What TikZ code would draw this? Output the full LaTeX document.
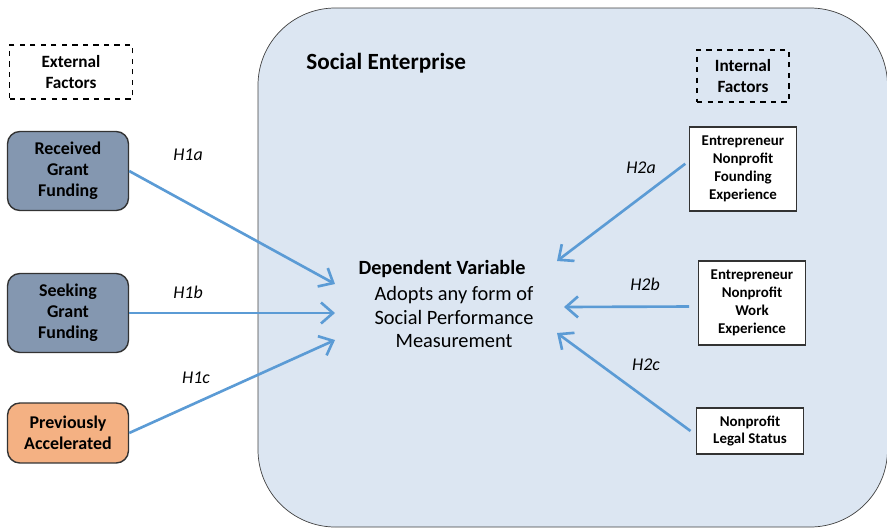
\documentclass[tikz,border=0pt]{standalone}
\usepackage{fontspec}
\setmainfont{Carlito}
\usepackage{tikz}
\usetikzlibrary{arrows.meta}

\definecolor{enterprise}{HTML}{DCE6F2}
\definecolor{grantbox}{HTML}{8497B0}
\definecolor{accelbox}{HTML}{F4B183}
\definecolor{hypline}{HTML}{5B9BD5}

\begin{document}
\begin{tikzpicture}[x=0.02cm, y=-0.02cm,
	every node/.style={font=\fontsize{9}{11.5}\selectfont, align=center},
	factor/.style={draw, dashed, thick, minimum width=2.46cm, minimum height=1.08cm, font=\fontsize{9.8}{12}\selectfont\bfseries},
	external/.style={draw=black!80, thick, rounded corners=7pt, minimum width=2.42cm, minimum height=1.58cm, font=\fontsize{10.2}{11.9}\selectfont\bfseries},
	internal/.style={draw=black!80, thick, fill=white, minimum width=2.14cm, minimum height=1.68cm, font=\fontsize{8.5}{10.2}\selectfont\bfseries},
	hyp/.style={font=\fontsize{10.2}{12}\selectfont\itshape},
	>={Straight Barb[length=2.4mm, width=4.2mm]}]
	\useasboundingbox (0,0) rectangle (887,528);
	% the enterprise boundary runs off the page at right and bottom
	\draw[black!75, fill=enterprise, rounded corners=44pt] (258,8) rectangle (887.5,527);
	\node[anchor=west, inner sep=0pt, font=\fontsize{13.2}{15}\selectfont\bfseries] (se) at (306,63) {Social Enterprise};

	% external factors
	\node[factor] (ext) at (71,72) {External\\Factors};
	\node[external, fill=grantbox] (rgf) at (68,171) {Received\\Grant\\Funding};
	\node[external, fill=grantbox] (sgf) at (68,313) {Seeking\\Grant\\Funding};
	\node[external, fill=accelbox, minimum height=1.2cm] (pa) at (68,433) {Previously\\Accelerated};

	% internal factors
	\node[factor, minimum width=1.84cm, minimum height=1.04cm] (int) at (743,76) {Internal\\Factors};
	\node[internal] (enf) at (743,169) {Entrepreneur\\Nonprofit\\Founding\\Experience};
	\node[internal] (enw) at (752,303) {Entrepreneur\\Nonprofit\\Work\\Experience};
	\node[internal, minimum height=0.92cm] (nls) at (750,431) {Nonprofit\\Legal Status};

	% dependent variable
	\node[font=\fontsize{11.5}{13}\selectfont\bfseries] (dv) at (442,269) {Dependent Variable};
	\node[font=\fontsize{11.6}{13.6}\selectfont] (spm) at (454,317) {Adopts any form of\\Social Performance\\Measurement};

	\coordinate (t1a) at (335,284);
	\coordinate (t1b) at (335,313);
	\coordinate (t1c) at (335,340);
	\coordinate (t2a) at (557,261);
	\coordinate (t2b) at (564,307);
	\coordinate (t2c) at (557,333);

	\draw[->, hypline, line width=1.5pt] (rgf.east) -- (t1a);
	\draw[->, hypline, line width=1.5pt] (sgf.east) -- (t1b);
	\draw[->, hypline, line width=1.5pt] (pa.east) -- (t1c);
	\draw[->, hypline, line width=1.5pt] ([xshift=-2pt, yshift=3pt]enf.west) -- (t2a);
	\draw[->, hypline, line width=1.5pt] ([xshift=-5pt, yshift=-2pt]enw.west) -- (t2b);
	\draw[->, hypline, line width=1.5pt] ([xshift=-3pt]nls.west) -- (t2c);

	\node[hyp] (h1a) at (188,155) {H1a};
	\node[hyp] (h1b) at (188,292) {H1b};
	\node[hyp] (h1c) at (196,378) {H1c};
	\node[hyp] (h2a) at (641,168) {H2a};
	\node[hyp] (h2b) at (645,284) {H2b};
	\node[hyp] (h2c) at (646,365) {H2c};
\end{tikzpicture}
\end{document}
